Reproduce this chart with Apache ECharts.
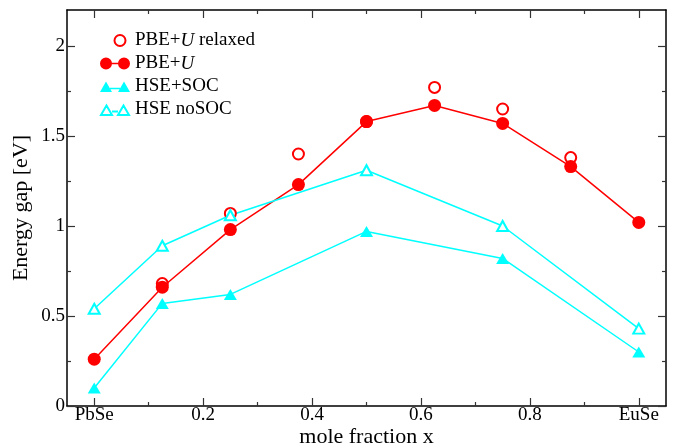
<!DOCTYPE html>
<html>
<head>
<meta charset="utf-8">
<script src="https://cdn.jsdelivr.net/npm/echarts@6/dist/echarts.min.js"></script>
<style>html,body{margin:0;padding:0;background:#fff}#c{width:679px;height:448px}</style>
</head>
<body>
<div id="c"></div>
<script>
// ---- data ----
const xRelaxed = [0.125, 0.25, 0.375, 0.5, 0.625, 0.75, 0.875];
const yRelaxed = [0.68, 1.07, 1.40, 1.58, 1.77, 1.65, 1.38];
const xPBEU = [0, 0.125, 0.25, 0.375, 0.5, 0.625, 0.75, 0.875, 1];
const yPBEU = [0.26, 0.66, 0.98, 1.23, 1.58, 1.67, 1.57, 1.33, 1.02];
const xHSE = [0, 0.125, 0.25, 0.5, 0.75, 1];
const yHSESOC = [0.10, 0.57, 0.62, 0.97, 0.82, 0.30];
const yHSEnoSOC = [0.54, 0.89, 1.06, 1.31, 1.00, 0.43];
const seriesNames = ['PBE+U relaxed', 'PBE+U', 'HSE+SOC', 'HSE noSOC'];
const xTickValues = [0, 0.2, 0.4, 0.6, 0.8, 1];
const xTickLabels = ['PbSe', '0.2', '0.4', '0.6', '0.8', 'EuSe'];
const xMinorTicks = [0.1, 0.3, 0.5, 0.7, 0.9];
const yTickValues = [0, 0.5, 1, 1.5, 2];
const yTickLabels = ['0', '0.5', '1', '1.5', '2'];
const yMinorTicks = [0.25, 0.75, 1.25, 1.75];
const xTitle = 'mole fraction x';
const yTitle = 'Energy gap [eV]';

const pair = (xs, ys) => xs.map((x, i) => [x, ys[i]]);
const FONT = 'Liberation Serif';
const RED = '#ff0000', CYAN = '#00ffff';

function xAx(pos, ticks, len, labels, line) {
  return {
    type: 'value', position: pos, min: -0.05, max: 1.05,
    axisLine: {show: line, onZero: false, lineStyle: {color: '#000', width: 1.5}},
    axisTick: {show: true, inside: true, length: len, customValues: ticks, lineStyle: {color: '#333', width: 1.2}},
    axisLabel: labels ? {show: true, customValues: xTickValues, margin: 0,
      formatter: v => { const i = xTickValues.findIndex(t => Math.abs(t - v) < 1e-9); return i >= 0 ? xTickLabels[i] : ''; },
      fontFamily: FONT, fontSize: 19, color: '#000'} : {show: false},
    splitLine: {show: false},
    name: labels ? xTitle : '', nameLocation: 'middle', nameGap: 20, nameMoveOverlap: false,
    nameTextStyle: {fontFamily: FONT, fontSize: 22, color: '#000'}
  };
}
function yAx(pos, ticks, len, labels, line) {
  return {
    type: 'value', position: pos, min: 0, max: 2.2,
    axisLine: {show: line, onZero: false, lineStyle: {color: '#000', width: 1.5}},
    axisTick: {show: true, inside: true, length: len, customValues: ticks, lineStyle: {color: '#333', width: 1.2}},
    axisLabel: labels ? {show: true, customValues: yTickValues, margin: 2,
      formatter: v => { const i = yTickValues.findIndex(t => Math.abs(t - v) < 1e-9); return i >= 0 ? yTickLabels[i] : ''; },
      fontFamily: FONT, fontSize: 19, color: '#000'} : {show: false},
    splitLine: {show: false},
    name: labels ? yTitle : '', nameLocation: 'middle', nameGap: 35, nameRotate: 90, nameMoveOverlap: false,
    nameTextStyle: {fontFamily: FONT, fontSize: 22, color: '#000'}
  };
}

const iconRelaxed = 'path://M0,0 M30,13 M14.5,6.5 A5.5,5.5 0 1 1 25.5,6.5 A5.5,5.5 0 1 1 14.5,6.5 Z';
const iconPBEU = 'path://M0,0 M30,13 M0,6.5 A6,6 0 1 1 12,6.5 A6,6 0 1 1 0,6.5 Z M18,6.5 A6,6 0 1 1 30,6.5 A6,6 0 1 1 18,6.5 Z M11,5.8 L19,5.8 L19,7.2 L11,7.2 Z';
const iconSOC = 'path://M0,0 M30,13 M0,12 L6,1.5 L12,12 Z M18,12 L24,1.5 L30,12 Z M10,7.8 L20,7.8 L20,9.2 L10,9.2 Z';
const iconNoSOC = 'path://M0,0 M30,13 M1,12 L6.5,2.5 L12,12 Z M18,12 L23.5,2.5 L29,12 Z M12,8.5 L18,8.5';

const chart = echarts.init(document.getElementById('c'), null, {renderer: 'canvas'});
chart.setOption({
  animation: false,
  backgroundColor: '#fff',
  grid: {left: 67, top: 10, right: 13, bottom: 42, containLabel: false, outerBoundsMode: 'none'},
  xAxis: [
    xAx('bottom', xTickValues, 8, true, true),
    xAx('bottom', xMinorTicks, 4, false, false),
    xAx('top', xTickValues, 8, false, true),
    xAx('top', xMinorTicks, 4, false, false)
  ],
  yAxis: [
    yAx('left', yTickValues, 8, true, true),
    yAx('left', yMinorTicks, 4, false, false),
    yAx('right', yTickValues, 8, false, true),
    yAx('right', yMinorTicks, 4, false, false)
  ],
  legend: {
    orient: 'vertical', left: 99, top: 31, padding: 0, itemGap: 4,
    itemWidth: 30, itemHeight: 13, selectedMode: false,
    textStyle: {fontFamily: FONT, fontSize: 19, color: '#000', lineHeight: 19,
      rich: {i: {fontFamily: FONT, fontSize: 19, fontStyle: 'italic', color: '#000'}}},
    formatter: n => n.replace('U', '{i|U}'),
    data: [
      {name: seriesNames[0], icon: iconRelaxed, itemStyle: {color: '#fff', borderColor: RED, borderWidth: 2}},
      {name: seriesNames[1], icon: iconPBEU, itemStyle: {color: RED, borderWidth: 0}},
      {name: seriesNames[2], icon: iconSOC, itemStyle: {color: CYAN, borderWidth: 0}},
      {name: seriesNames[3], icon: iconNoSOC, itemStyle: {color: '#fff', borderColor: CYAN, borderWidth: 2}}
    ]
  },
  series: [
    {name: seriesNames[0], type: 'line', data: pair(xRelaxed, yRelaxed), symbol: 'emptyCircle', symbolSize: 11,
      lineStyle: {width: 0, opacity: 0}, itemStyle: {color: RED, borderWidth: 2}, silent: true},
    {name: seriesNames[1], type: 'line', data: pair(xPBEU, yPBEU), symbol: 'circle', symbolSize: 13,
      lineStyle: {width: 1.5, color: RED}, itemStyle: {color: RED}, silent: true},
    {name: seriesNames[2], type: 'line', data: pair(xHSE, yHSESOC), symbol: 'triangle', symbolSize: [13, 11],
      lineStyle: {width: 1.5, color: CYAN}, itemStyle: {color: CYAN}, silent: true},
    {name: seriesNames[3], type: 'line', data: pair(xHSE, yHSEnoSOC), symbol: 'emptyTriangle', symbolSize: [11, 10],
      lineStyle: {width: 1.5, color: CYAN}, itemStyle: {color: CYAN, borderWidth: 2}, silent: true}
  ]
});
</script>
</body>
</html>
